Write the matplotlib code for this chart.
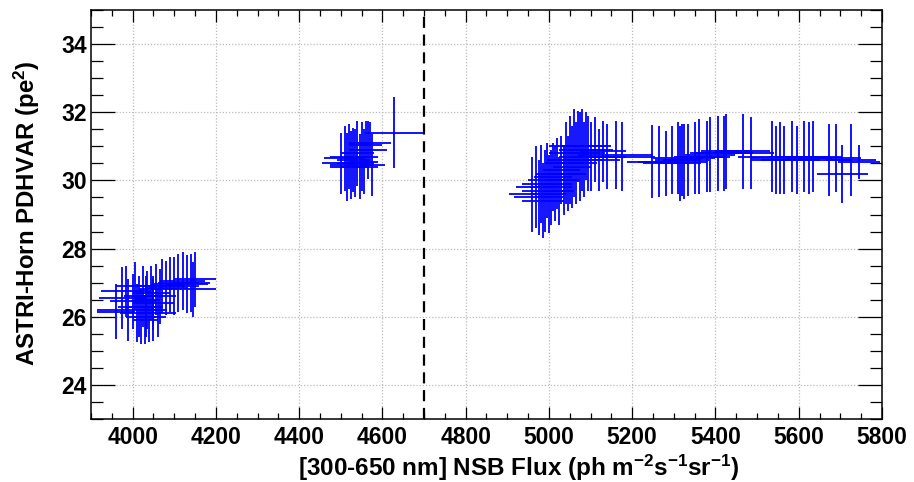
import matplotlib
matplotlib.use("Agg")
import matplotlib.pyplot as plt
from matplotlib.ticker import MultipleLocator
import numpy as np

plt.rcParams['font.family'] = ['Liberation Sans', 'DejaVu Sans']
plt.rcParams['font.weight'] = 'bold'
plt.rcParams['mathtext.fontset'] = 'custom'
plt.rcParams['mathtext.rm'] = 'Liberation Sans:bold'
plt.rcParams['mathtext.it'] = 'Liberation Sans:bold'
plt.rcParams['mathtext.bf'] = 'Liberation Sans:bold'

# ---- data: cluster 1 ----
c1_x = [3960, 3975, 3985, 3990, 4000, 4005, 4010, 4015, 4020, 4025, 4030, 4032, 4035, 4040,
        4045, 4048, 4050, 4055, 4060, 4065, 4070, 4080, 4090, 4100, 4110, 4120, 4130, 4140,
        4145, 4150]
c1_y = [26.15, 26.55, 26.75, 26.2, 26.45, 26.9, 26.1, 26.3, 26.0, 26.6, 25.9, 26.3, 26.5, 26.0,
        26.7, 26.2, 26.4, 26.8, 26.1, 26.6, 26.9, 26.85, 26.95, 26.9, 27.0, 27.05, 26.95, 27.0,
        26.8, 27.1]
c1_ex = [45, 55, 60, 75, 55, 45, 40, 50, 35, 45, 30, 40, 30, 40,
         45, 35, 50, 40, 45, 40, 55, 50, 45, 60, 50, 55, 50, 45,
         55, 50]
c1_ey = [0.8, 0.9, 0.75, 0.9, 0.8, 0.7, 0.85, 0.9, 0.8, 0.9, 0.7, 0.9, 0.85, 0.75,
         0.8, 0.9, 0.8, 0.75, 0.7, 0.8, 0.8, 0.8, 0.8, 0.85, 0.85, 0.85, 0.85, 0.85,
         0.8, 0.8]

# ---- cluster 2 ----
c2_x = [4500, 4510, 4515, 4520, 4525, 4530, 4535, 4540, 4545, 4550, 4555, 4560, 4565, 4570,
        4575, 4628]
c2_y = [30.5, 30.65, 30.4, 30.7, 30.45, 30.6, 30.5, 30.8, 30.4, 30.7, 30.55, 31.05, 30.9, 31.1,
        30.45, 31.4]
c2_ex = [45, 50, 40, 45, 50, 40, 45, 40, 45, 40, 35, 40, 45, 50, 30, 70]
c2_ey = [0.9, 0.95, 1.0, 0.95, 1.0, 0.95, 1.0, 0.95, 0.95, 1.0, 0.95, 0.7, 0.85, 0.6, 0.9, 1.05]

# ---- cluster 3 ----
c3_x = [4960, 4970, 4975, 4980, 4985, 4990, 4995, 5000, 5005, 5010, 5015, 5020, 5025, 5030,
        5035, 5040, 5045, 5050, 5055, 5060, 5065, 5070, 5075, 5080, 5085, 5090, 5095, 5100,
        5110, 5120, 5130, 5140, 5160, 5175]
c3_y = [29.6, 29.8, 29.5, 29.9, 29.4, 29.7, 30.0, 29.6, 29.8, 30.1, 29.9, 30.2, 29.7, 30.3,
        30.0, 30.5, 30.2, 30.6, 30.4, 30.8, 30.5, 31.0, 30.7, 30.9, 30.6, 31.0, 30.8, 30.7,
        30.9, 30.6, 30.85, 30.7, 30.75, 30.7]
c3_ex = [55, 50, 60, 45, 50, 55, 45, 40, 50, 45, 40, 50, 35, 45,
         40, 50, 45, 55, 45, 60, 50, 70, 50, 55, 45, 60, 40, 50,
         45, 50, 55, 45, 90, 80]
c3_ey = [1.1, 1.2, 1.1, 1.15, 1.1, 1.2, 1.1, 1.15, 1.1, 1.0, 1.1, 1.05, 1.0, 1.0,
         1.0, 1.2, 1.1, 1.3, 1.2, 1.3, 1.2, 1.05, 1.3, 1.2, 1.1, 1.0, 1.1, 1.0,
         0.95, 0.9, 0.9, 0.95, 1.0, 1.0]

# ---- cluster 4 ----
c4_x = [5247, 5265, 5280, 5295, 5310, 5315, 5320, 5325, 5335, 5350, 5360, 5380, 5388, 5405,
        5420, 5425, 5465, 5485, 5535, 5545, 5555, 5565, 5585, 5595, 5612, 5625, 5635, 5672,
        5690, 5705, 5725, 5745]
c4_y = [30.55, 30.55, 30.5, 30.6, 30.65, 30.5, 30.6, 30.55, 30.6, 30.65, 30.7, 30.7, 30.75, 30.8,
        30.8, 30.85, 30.85, 30.8, 30.7, 30.6, 30.65, 30.6, 30.7, 30.6, 30.7, 30.65, 30.7, 30.6,
        30.65, 30.2, 30.6, 30.55]
c4_ex = [60, 50, 55, 40, 60, 50, 45, 55, 50, 50, 60, 55, 60, 65,
         70, 60, 65, 55, 80, 60, 70, 55, 60, 55, 60, 55, 70, 55,
         60, 62, 60, 50]
c4_ey = [1.08, 1.05, 0.95, 1.0, 1.05, 1.1, 1.05, 1.1, 1.05, 1.05, 1.1, 1.05, 1.1, 1.1,
         1.1, 1.1, 1.1, 1.05, 1.05, 1.0, 1.05, 1.0, 1.05, 1.0, 1.05, 1.05, 1.05, 1.05,
         1.0, 0.85, 1.05, 0.5]

x_ticks = [4000, 4200, 4400, 4600, 4800, 5000, 5200, 5400, 5600, 5800]
y_ticks = [24, 26, 28, 30, 32, 34]
boundary_x = 4700

x_all = np.concatenate([c1_x, c2_x, c3_x, c4_x])
y_all = np.concatenate([c1_y, c2_y, c3_y, c4_y])
ex_all = np.concatenate([c1_ex, c2_ex, c3_ex, c4_ex])
ey_all = np.concatenate([c1_ey, c2_ey, c3_ey, c4_ey])

fig = plt.figure(figsize=(9.14, 4.82), dpi=100)
ax = fig.add_axes([91/914, 1-419/482, (882-91)/914, (419-10)/482])

ax.errorbar(x_all, y_all, xerr=ex_all, yerr=ey_all, fmt='none', ecolor='#0000ff',
            elinewidth=1.3, capsize=0, zorder=3)
ax.axvline(boundary_x, color='black', lw=1.6, ls=(0, (5, 3)), zorder=4)

ax.set_xlim(3900, 5800)
ax.set_ylim(23, 35)
ax.set_xticks(x_ticks)
ax.set_yticks(y_ticks)
ax.xaxis.set_minor_locator(MultipleLocator(50))
ax.yaxis.set_minor_locator(MultipleLocator(0.5))
ax.grid(True, which='major', color='#bbbbbb', ls=(0, (1, 1.5)), lw=0.9, zorder=0)
ax.set_axisbelow(True)

ax.tick_params(axis='x', which='major', direction='in', length=8.6, width=0.9,
               top=True, labelsize=16.5, pad=5)
ax.tick_params(axis='x', which='minor', direction='in', length=4.3, width=0.9, top=True)
ax.tick_params(axis='y', which='major', direction='in', length=17.3, width=0.9,
               right=True, labelsize=16.5, pad=3)
ax.tick_params(axis='y', which='minor', direction='in', length=8.6, width=0.9, right=True)
for lab in ax.get_xticklabels() + ax.get_yticklabels():
    lab.set_fontweight('bold')
for s in ax.spines.values():
    s.set_linewidth(1.1)

fig.text(519/914, 1-476/482,
         r'[300-650 nm] NSB Flux (ph m$^{\mathregular{-2}}$s$^{\mathregular{-1}}$sr$^{\mathregular{-1}}$)',
         ha='center', va='baseline', fontsize=17.5, fontweight='bold')
fig.text(27/914, 1-213/482, r'ASTRI-Horn PDHVAR (pe$^{\mathregular{2}}$)',
         ha='center', va='center', rotation=90, fontsize=17.3, fontweight='bold')

fig.savefig('out.png', dpi=100)
